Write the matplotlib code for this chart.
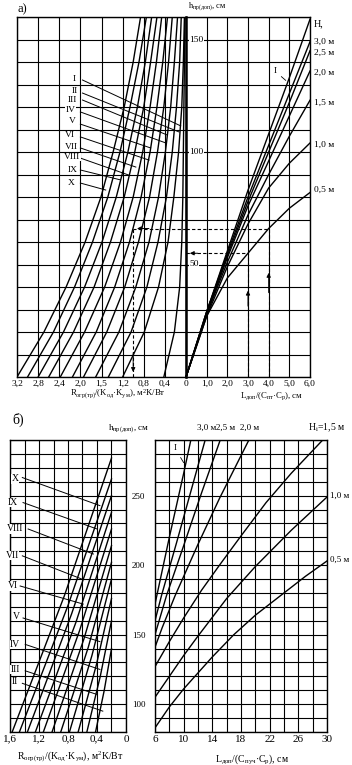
import matplotlib
matplotlib.use('Agg')
import matplotlib.pyplot as plt
import numpy as np

plt.rcParams['font.family'] = ['Liberation Serif', 'DejaVu Serif']
plt.rcParams['mathtext.fontset'] = 'custom'
plt.rcParams['mathtext.rm'] = 'Liberation Serif'
plt.rcParams['mathtext.it'] = 'Liberation Serif:italic'
plt.rcParams['mathtext.bf'] = 'Liberation Serif:bold'

# ---------- panel a), left half: R/(K*K) against h, curves I..X
a_h_levels = [0, 20, 40, 60, 80, 100, 120, 140, 160]
a_left_curves = [
    [3.20, 2.69, 2.27, 1.91, 1.61, 1.38, 1.17, 1.00, 0.86],
    [3.00, 2.51, 2.11, 1.77, 1.48, 1.25, 1.06, 0.89, 0.75],
    [2.80, 2.32, 1.92, 1.59, 1.32, 1.10, 0.92, 0.77, 0.65],
    [2.60, 2.13, 1.74, 1.43, 1.17, 0.97, 0.80, 0.67, 0.55],
    [2.38, 1.92, 1.54, 1.24, 1.00, 0.82, 0.68, 0.56, 0.46],
    [2.15, 1.70, 1.35, 1.07, 0.85, 0.68, 0.55, 0.44, 0.35],
    [1.94, 1.50, 1.16, 0.90, 0.69, 0.54, 0.42, 0.33, 0.26],
    [1.71, 1.27, 0.95, 0.70, 0.52, 0.39, 0.29, 0.22, 0.16],
    [1.47, 1.04, 0.74, 0.53, 0.37, 0.26, 0.18, 0.12, 0.09],
    [1.20, 0.79, 0.52, 0.34, 0.23, 0.14, 0.08, 0.05, 0.03],
    [0.42, 0.22, 0.12, 0.08, 0.06, 0.05, 0.04, 0.03, 0.02],
]
a_roman = ['I', 'II', 'III', 'IV', 'V', 'VI', 'VII', 'VIII', 'IX', 'X']
a_label_xy = [(2.11, 132.4), (2.11, 127.1), (2.15, 123.1), (2.19, 118.7), (2.15, 113.8),
              (2.19, 107.6), (2.17, 102.2), (2.15, 97.8), (2.15, 92.0), (2.17, 86.2)]
a_leader_start = [(1.96, 132), (1.96, 126.2), (1.96, 123.1), (2.0, 117.8), (2.0, 112.4),
                  (2.0, 106.7), (2.0, 101.8), (2.0, 97.3), (2.0, 92.0), (2.0, 86.2)]
a_leader_end = [(0.10, 111.6), (0.13, 108.9), (0.36, 107.6), (0.38, 104.0), (0.67, 101.8),
                (0.70, 96.4), (0.95, 93.3), (1.09, 89.8), (1.24, 87.6), (1.52, 83.1)]

# ---------- panel a), right half: L/(C*C) against h, lines for H
a_L = [0, 1, 2, 3, 4, 5, 6]
a_right_lines = {
    'I': [0, 29, 56, 83, 108, 133, 159],
    '3,0 м': [0, 29, 55, 80, 103, 126, 149],
    '2,5 м': [0, 29, 54, 78, 100, 122, 145],
    '2,0 м': [0, 28, 53, 76, 96, 116, 136],
    '1,5 м': [0, 28, 51, 72, 90, 107, 123],
    '1,0 м': [0, 27, 49, 68, 84, 95, 104],
    '0,5 м': [0, 27, 44, 55, 66, 75, 82],
}
a_H_label_y = {'3,0 м': 149, '2,5 м': 144, '2,0 м': 135, '1,5 м': 122,
               '1,0 м': 103, '0,5 м': 83}

# worked example (dashed)
ex_L = [3.0, 4.0]
ex_h = [55, 66]
ex_R = 1.0

# ---------- panel b), left part
b_left_bottom_R = [1.57, 1.47, 1.36, 1.25, 1.14, 1.02, 0.90, 0.78, 0.66, 0.54, 0.42]
b_left_mid_R = [0.85, 0.80, 0.75, 0.69, 0.64, 0.58, 0.52, 0.47, 0.41, 0.355, 0.30]
b_left_mid_h = [178, 171, 165, 159, 153, 147, 141, 135, 128, 120, 110]
b_left_end_R = [0.2] * 11
b_left_end_h = [277, 262, 250, 238, 226, 214, 202, 190, 176, 160, 140]
b_roman = ['X', 'IX', 'VIII', 'VII', 'VI', 'V', 'IV', 'III', 'II']
b_label_xy = [(1.53, 262), (1.56, 245), (1.53, 226), (1.57, 207), (1.56, 185),
              (1.51, 163), (1.53, 143), (1.53, 125), (1.53, 116)]
b_leader_start = [(1.43, 263), (1.42, 245), (1.35, 226), (1.43, 206.7), (1.46, 185),
                  (1.42, 162), (1.39, 143), (1.39, 124), (1.43, 115)]
b_leader_end = [(0.36, 242.8), (0.40, 226), (0.45, 208), (0.61, 190), (0.59, 172),
                (0.36, 145), (0.36, 125), (0.40, 107), (0.32, 95)]

# ---------- panel b), right part
b_right_lines = {
    'I': ([6, 8, 10, 11], [172, 220, 266, 290]),
    '3,0': ([6, 6.9, 9, 11, 13], [160, 178, 216, 253, 290]),
    '2,5': ([6, 7.6, 10, 12.5, 15.1], [150, 178, 214, 252, 290]),
    '2,0': ([6, 7, 8.8, 12, 15, 19.1], [141, 155, 178, 215, 248, 290]),
    '1,5': ([6, 8, 10, 12.5, 15, 18, 21.5, 25, 29.4], [127, 145, 162, 182, 200, 221, 245, 266, 290]),
    '1,0': ([6, 8, 10, 12, 16, 20, 25, 30], [105, 120, 135, 149, 176, 199, 225, 249]),
    '0,5': ([6, 8, 10, 14, 17, 20, 24, 27, 30], [83, 98, 111, 134, 150, 164, 180, 192, 203]),
}

R_label = r'R$_{\mathrm{огр(тр)}}$/(K$_{\mathrm{од}}$·K$_{\mathrm{ум}}$), м$^{2}$K/Вт'
h_label = r'h$_{\mathrm{пр(доп)}}$, см'

LW_GRID = 0.8
LW_LINE = 1.0
FS_A = 6.8
FS_B = 8


def style_axes(ax, lw=1.0):
    ax.grid(True, color='black', lw=LW_GRID)
    ax.set_axisbelow(True)
    ax.tick_params(length=0, pad=2)
    for s in ax.spines.values():
        s.set_linewidth(lw)


fig = plt.figure(figsize=(3.52, 7.65), dpi=100)
W, H = 352.0, 765.0

# ===================== panel a =====================
axL = fig.add_axes([17 / W, 388 / H, 169 / W, 360 / H])
axR = fig.add_axes([186 / W, 388 / H, 124 / W, 360 / H])

axL.set_xlim(3.2, 0)
axL.set_ylim(0, 160)
axL.set_xticks(np.arange(0, 3.3, 0.4))
axL.set_xticklabels(['', '0,4', '0,8', '1,2', '1,5', '2,0', '2,4', '2,8', '3,2'], fontsize=FS_A)
axL.set_yticks(np.arange(0, 161, 10))
axL.set_yticklabels([])
style_axes(axL)

for xs in a_left_curves:
    axL.plot(xs, a_h_levels, color='black', lw=LW_LINE)

for name, (tx, ty), (sx, sy), (ex, ey) in zip(a_roman, a_label_xy, a_leader_start, a_leader_end):
    axL.plot([sx, ex], [sy, ey], color='black', lw=0.7)
    axL.text(tx, ty, name, fontsize=FS_A, ha='center', va='center',
             bbox=dict(facecolor='white', edgecolor='none', pad=0.3))

axR.set_xlim(0, 6)
axR.set_ylim(0, 160)
axR.set_xticks(np.arange(0, 7, 1))
axR.set_xticklabels(['0', '1,0', '2,0', '3,0', '4,0', '5,0', '6,0'], fontsize=FS_A)
axR.set_yticks(np.arange(0, 161, 10))
axR.set_yticklabels([])
style_axes(axR)
axR.spines['left'].set_linewidth(1.8)

for name, hs in a_right_lines.items():
    axR.plot(a_L, hs, color='black', lw=LW_LINE, clip_on=False)
    if name in a_H_label_y:
        axR.text(6.2, a_H_label_y[name], name, fontsize=FS_A, ha='left', va='center')
axR.text(6.2, 157, 'H,', fontsize=FS_A + 0.5, ha='left', va='center')
axR.annotate('I', xy=(4.93, 131), xytext=(4.3, 136), fontsize=FS_A, ha='center', va='center',
             arrowprops=dict(arrowstyle='-', lw=0.6, color='black'))

for val in [50, 100, 150]:
    axR.text(0.15, val, str(val), fontsize=FS_A, ha='left', va='center',
             bbox=dict(facecolor='white', edgecolor='none', pad=0.2))
    axR.plot([-0.08, 0.12], [val, val], color='black', lw=0.8, clip_on=False)

# dashed worked example
dash = dict(color='black', lw=0.8, ls=(0, (3, 2)))
for L, hh in zip(ex_L, ex_h):
    axR.plot([L, L], [0, hh], **dash)
    axR.plot([0, L], [hh, hh], **dash)
    axR.annotate('', xy=(L, hh * 0.72), xytext=(L, hh * 0.55),
                 arrowprops=dict(arrowstyle='-|>', color='black', lw=0.7, mutation_scale=6))
axR.annotate('', xy=(0.05, ex_h[0]), xytext=(0.7, ex_h[0]),
             arrowprops=dict(arrowstyle='-|>', color='black', lw=0.7, mutation_scale=6))
axL.plot([0, ex_R], [ex_h[1], ex_h[1]], **dash)
axL.plot([ex_R, ex_R], [0, ex_h[1]], **dash)
axL.annotate('', xy=(ex_R - 0.02, ex_h[1]), xytext=(ex_R - 0.35, ex_h[1]),
             arrowprops=dict(arrowstyle='-|>', color='black', lw=0.7, mutation_scale=6))
axL.annotate('', xy=(ex_R, 1), xytext=(ex_R, 12),
             arrowprops=dict(arrowstyle='-|>', color='black', lw=0.7, mutation_scale=6))

fig.text(18 / W, 1 - 9 / H, 'а)', fontsize=9, ha='left', va='center')
fig.text(188 / W, 1 - 7 / H, h_label, fontsize=6, ha='left', va='center')
fig.text(118 / W, 1 - 394 / H, R_label, fontsize=6.3, ha='center', va='center')
fig.text(272 / W, 1 - 396 / H, r'L$_{\mathrm{доп}}$/(C$_{\mathrm{пт}}$·C$_{\mathrm{р}}$), см',
         fontsize=6.3, ha='center', va='center')

# ===================== panel b =====================
bxL = fig.add_axes([10 / W, 33 / H, 116 / W, 292 / H])
bxR = fig.add_axes([155 / W, 33 / H, 172 / W, 292 / H])

bxL.set_xlim(1.6, 0)
bxL.set_ylim(80, 290)
bxL.set_xticks(np.arange(0, 1.61, 0.2))
bxL.set_xticklabels(['0', '', '0,4', '', '0,8', '', '1,2', '', '1,6'], fontsize=FS_B)
bxL.set_yticks(np.arange(80, 291, 10))
bxL.set_yticklabels([])
style_axes(bxL)

for r0, rm, hm, r1, h1 in zip(b_left_bottom_R, b_left_mid_R, b_left_mid_h, b_left_end_R, b_left_end_h):
    bxL.plot([r0, rm, r1], [80, hm, h1], color='black', lw=LW_LINE)

for name, (tx, ty), (sx, sy), (ex, ey) in zip(b_roman, b_label_xy, b_leader_start, b_leader_end):
    bxL.plot([sx, ex], [sy, ey], color='black', lw=0.7)
    bxL.text(tx, ty, name, fontsize=FS_B - 1, ha='center', va='center',
             bbox=dict(facecolor='white', edgecolor='none', pad=0.3))

bxR.set_xlim(6, 30)
bxR.set_ylim(80, 290)
bxR.set_xticks(np.arange(6, 31, 2))
bxR.set_xticklabels([str(v) if (v - 6) % 4 == 0 else '' for v in range(6, 31, 2)], fontsize=FS_B)
bxR.set_yticks(np.arange(80, 291, 10))
bxR.set_yticklabels([str(v) if v % 50 == 0 else '' for v in range(80, 291, 10)], fontsize=FS_B - 1.5)
style_axes(bxR)
bxR.tick_params(axis='y', pad=7)

for name, (xs, hs) in b_right_lines.items():
    bxR.plot(xs, hs, color='black', lw=LW_LINE)

bxR.annotate('I', xy=(10.2, 272), xytext=(8.8, 284), fontsize=FS_B - 1.5, ha='center', va='center',
             arrowprops=dict(arrowstyle='-', lw=0.6, color='black'))
fig.text(207 / W, 1 - 428 / H, '3,0 м', fontsize=FS_B - 1.5, ha='center', va='center')
fig.text(226 / W, 1 - 428 / H, '2,5 м', fontsize=FS_B - 1.5, ha='center', va='center')
fig.text(250 / W, 1 - 428 / H, '2,0 м', fontsize=FS_B - 1.5, ha='center', va='center')
fig.text(327 / W, 1 - 428 / H, r'H$_{\mathrm{i}}$=1,5 м', fontsize=FS_B - 1, ha='center', va='center')
fig.text(330 / W, 1 - 496 / H, '1,0 м', fontsize=FS_B - 1.5, ha='left', va='center')
fig.text(330 / W, 1 - 560 / H, '0,5 м', fontsize=FS_B - 1.5, ha='left', va='center')

fig.text(12 / W, 1 - 420 / H, 'б)', fontsize=10, ha='left', va='center')
fig.text(108 / W, 1 - 429 / H, h_label, fontsize=6.5, ha='left', va='center')
fig.text(70 / W, 1 - 757 / H, R_label, fontsize=7, ha='center', va='center')
fig.text(252 / W, 1 - 759 / H, r'L$_{\mathrm{доп}}$/(C$_{\mathrm{пуч}}$·C$_{\mathrm{р}}$), см',
         fontsize=7, ha='center', va='center')

fig.savefig('out.png', dpi=100)
